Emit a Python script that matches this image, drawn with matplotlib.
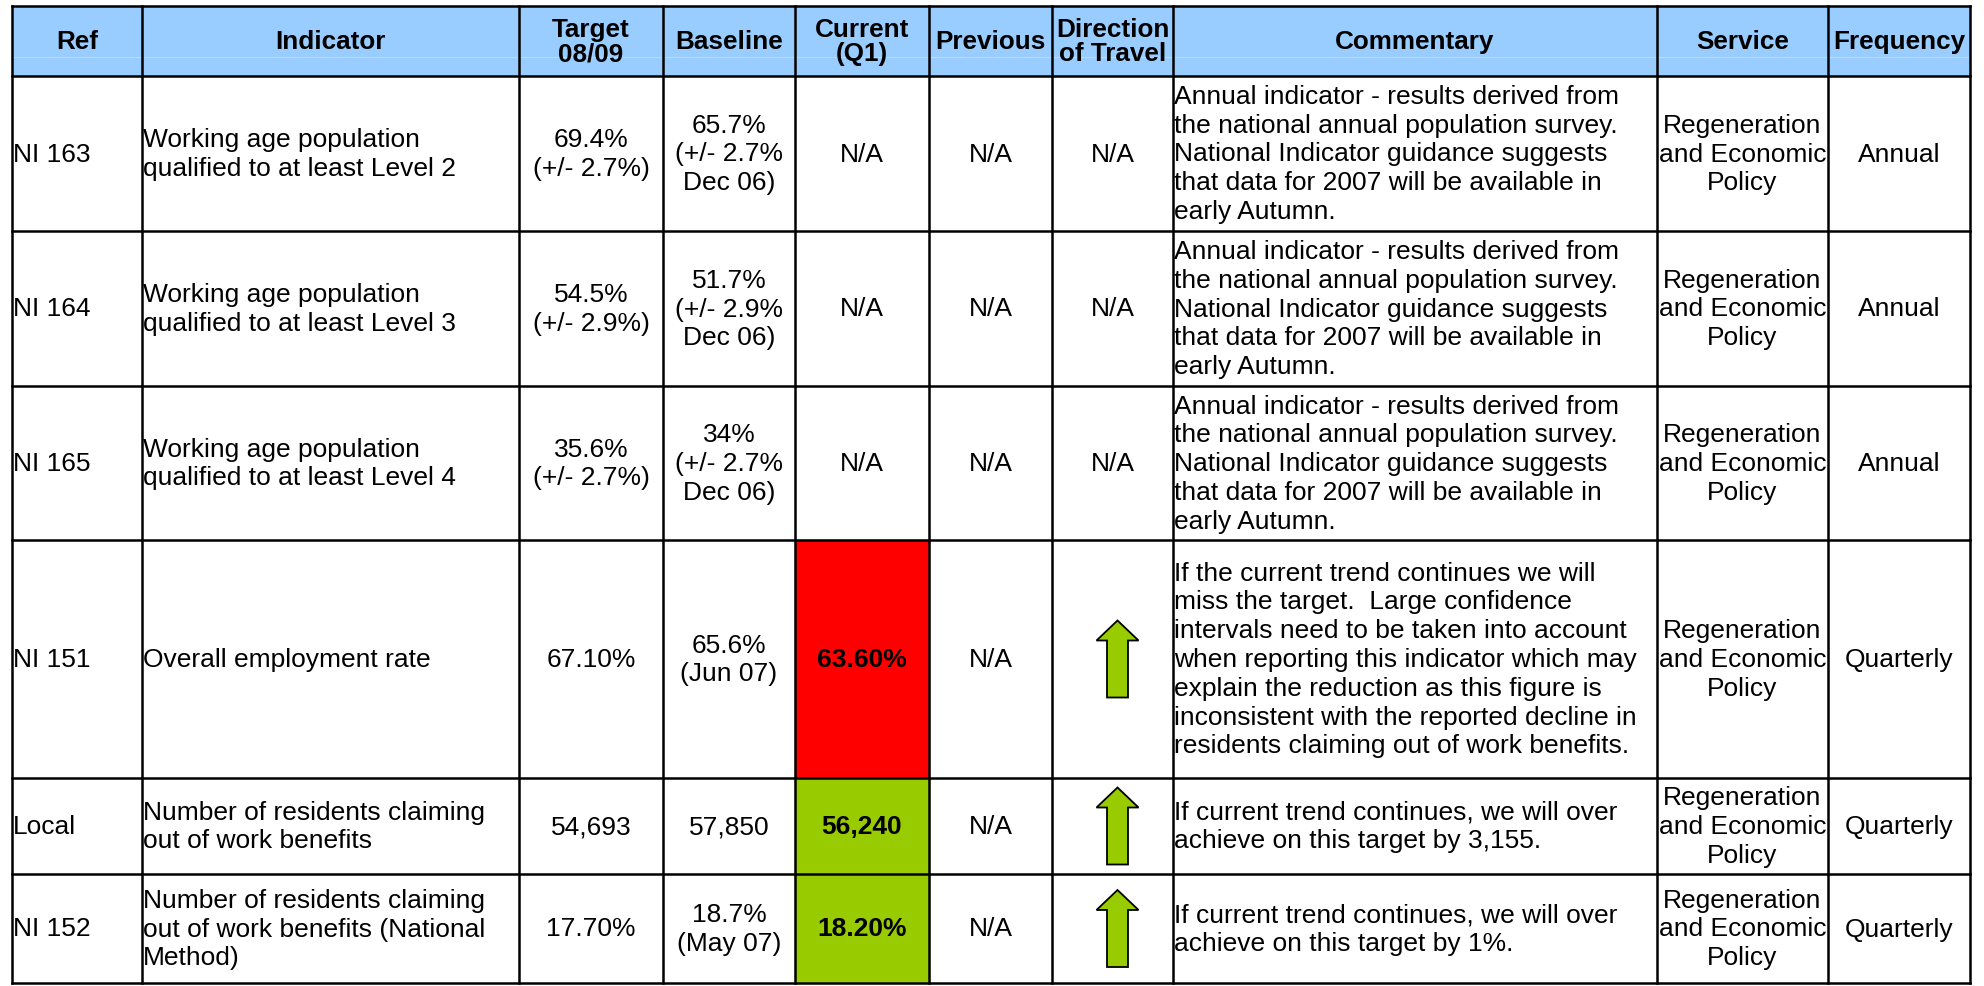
import matplotlib
matplotlib.use("Agg")
import matplotlib.pyplot as plt
from matplotlib.patches import Rectangle, Polygon

plt.rcParams['font.family'] = ['Liberation Sans', 'DejaVu Sans']

### table data
headers = ["Ref", "Indicator", "Target\n08/09", "Baseline", "Current\n(Q1)", "Previous",
           "Direction\nof Travel", "Commentary", "Service", "Frequency"]

refs = ["NI 163", "NI 164", "NI 165", "NI 151", "Local", "NI 152"]
indicators = ["Working age population\nqualified to at least Level 2",
              "Working age population\nqualified to at least Level 3",
              "Working age population\nqualified to at least Level 4",
              "Overall employment rate",
              "Number of residents claiming\nout of work benefits",
              "Number of residents claiming\nout of work benefits (National\nMethod)"]
targets = ["69.4%\n(+/- 2.7%)", "54.5%\n(+/- 2.9%)", "35.6%\n(+/- 2.7%)", "67.10%", "54,693", "17.70%"]
baselines = ["65.7%\n(+/- 2.7%\nDec 06)", "51.7%\n(+/- 2.9%\nDec 06)", "34%\n(+/- 2.7%\nDec 06)",
             "65.6%\n(Jun 07)", "57,850", "18.7%\n(May 07)"]
currents = ["N/A", "N/A", "N/A", "63.60%", "56,240", "18.20%"]
current_status = [None, None, None, "red", "green", "green"]
previous = ["N/A", "N/A", "N/A", "N/A", "N/A", "N/A"]
direction = ["N/A", "N/A", "N/A", "up", "up", "up"]
annual_note = ("Annual indicator - results derived from\nthe national annual population survey.\n"
               "National Indicator guidance suggests\nthat data for 2007 will be available in\nearly Autumn.")
commentary = [annual_note, annual_note, annual_note,
              "If the current trend continues we will\nmiss the target.  Large confidence\n"
              "intervals need to be taken into account\nwhen reporting this indicator which may\n"
              "explain the reduction as this figure is\ninconsistent with the reported decline in\n"
              "residents claiming out of work benefits.",
              "If current trend continues, we will over\nachieve on this target by 3,155.",
              "If current trend continues, we will over\nachieve on this target by 1%."]
service = ["Regeneration\nand Economic\nPolicy"] * 6
frequency = ["Annual", "Annual", "Annual", "Quarterly", "Quarterly", "Quarterly"]

### layout (pixels)
col_edges = [12, 142, 519, 663, 795, 929, 1052, 1173, 1657, 1828, 1970]
row_edges = [7, 77, 232, 387, 541, 779, 875, 984]
left_cols = [0, 1, 7]   # left aligned columns
HEAD_BLUE = '#99ccff'
FILL = {"red": '#ff0000', "green": '#99cc00'}
FS = 19
HFS = 18.8

fig = plt.figure(figsize=(19.84, 9.87), dpi=100)
ax = fig.add_axes([0, 0, 1, 1])
ax.set_xlim(0, 1984)
ax.set_ylim(987, 0)
ax.axis('off')

### header
ax.add_patch(Rectangle((col_edges[0], row_edges[0]), col_edges[-1] - col_edges[0],
                       row_edges[1] - row_edges[0], color=HEAD_BLUE, zorder=0))
ax.plot([col_edges[0], col_edges[-1]], [58, 58], color='#b8dcff', lw=0.8, zorder=1)
for i, h in enumerate(headers):
    cx = (col_edges[i] + col_edges[i + 1]) / 2
    cy = (row_edges[0] + row_edges[1]) / 2
    ax.text(cx, cy, h, ha='center', va='center', fontsize=HFS, fontweight='bold',
            linespacing=1.0)

### body
columns = [refs, indicators, targets, baselines, currents, previous, direction,
           commentary, service, frequency]

def up_arrow(cx, cy):
    hh, head_h, head_w, shaft_w = 38.5, 20, 21, 10.5
    pts = [(cx, cy - hh), (cx + head_w, cy - hh + head_h), (cx + shaft_w, cy - hh + head_h),
           (cx + shaft_w, cy + hh), (cx - shaft_w, cy + hh), (cx - shaft_w, cy - hh + head_h),
           (cx - head_w, cy - hh + head_h)]
    ax.add_patch(Polygon(pts, closed=True, facecolor='#99cc00', edgecolor='black',
                         lw=1.3, zorder=3))

for r in range(len(refs)):
    y0, y1 = row_edges[r + 1], row_edges[r + 2]
    cy = (y0 + y1) / 2
    st = current_status[r]
    if st is not None:
        ax.add_patch(Rectangle((col_edges[4], y0), col_edges[5] - col_edges[4], y1 - y0,
                               color=FILL[st], zorder=0))
    for c, col in enumerate(columns):
        val = col[r]
        x0, x1 = col_edges[c], col_edges[c + 1]
        if c == 6 and val == "up":
            up_arrow((x0 + x1) / 2 + 5, cy)
            continue
        if c in left_cols:
            ax.text(x0 + 1, cy, val, ha='left', va='center', ma='left', fontsize=FS,
                    linespacing=1.25)
        else:
            bold = (c == 4 and st is not None)
            ax.text((x0 + x1) / 2, cy, val, ha='center', va='center', ma='center',
                    fontsize=FS, linespacing=1.25,
                    fontweight='bold' if bold else 'normal')

### grid lines
for y in row_edges:
    ax.plot([col_edges[0], col_edges[-1]], [y, y], color='black', lw=1.8, zorder=4,
            solid_capstyle='projecting')
for x in col_edges:
    ax.plot([x, x], [row_edges[0], row_edges[-1]], color='black', lw=1.8, zorder=4,
            solid_capstyle='projecting')

fig.savefig('out.png', dpi=100, facecolor='white')
